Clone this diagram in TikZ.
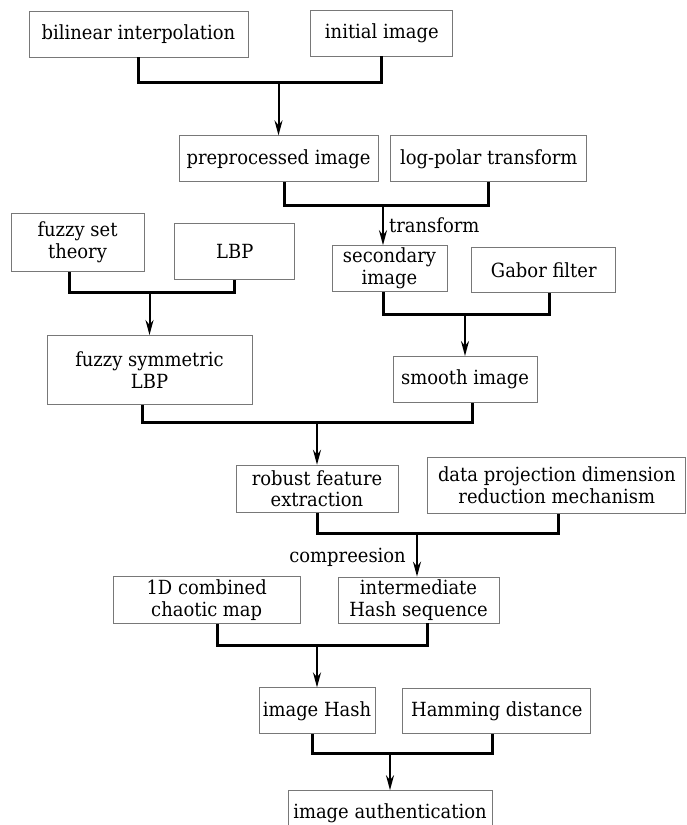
\documentclass[tikz,border=0pt]{standalone}
\usepackage{fontspec}
\setmainfont{DejaVu Serif}[FakeStretch=0.92]
\usepackage{tikz}
\usetikzlibrary{arrows.meta,positioning}
\definecolor{boxgray}{RGB}{120,120,120}
\tikzset{
	>={Stealth[length=15pt,width=8pt]},
	% Specifications for style of nodes:
	box/.style = {rectangle, draw=boxgray, line width=0.8pt,
	inner sep=1.5pt, align=center, text centered},
	lbl/.style = {inner sep=0pt},
	% Specifications for style of connections:
	merge/.style = {line width=3pt, line join=miter},
	flow/.style = {line width=2pt, ->},
}

\begin{document}
\begin{tikzpicture}[every node/.style={font=\fontsize{19.5}{21.7}\selectfont}]
	\useasboundingbox (0,0) rectangle (686pt,-825pt);
		% draw blocks
		\node (bil)[box, minimum width=219pt, minimum height=46pt] at (138.5pt,-34pt) {bilinear interpolation};
		\node (init)[box, right=62pt of bil, yshift=1pt, minimum width=142pt, minimum height=46pt]{initial image};
		\node (pre)[box, below=78pt of bil, xshift=140pt, minimum width=199pt, minimum height=46pt]{preprocessed image};
		\node (logp)[box, right=12pt of pre, minimum width=196pt, minimum height=46pt]{log-polar transform};
		% left branch
		\node (fst)[box, below=31pt of pre, xshift=-201pt, minimum width=133pt, minimum height=58pt]{fuzzy set\\theory};
		\node (lbp)[box, right=30pt of fst, yshift=-9pt, minimum width=120pt, minimum height=56pt]{LBP};
		\node (fslbp)[box, below=63pt of fst, xshift=72pt, minimum width=205pt, minimum height=69pt]{fuzzy symmetric\\LBP};
		% right branch
		\node (sec)[box, below=63pt of pre, xshift=111pt, minimum width=115pt, minimum height=46pt]{secondary\\image};
		\node (gab)[box, right=24pt of sec, yshift=-1.5pt, minimum width=144pt, minimum height=45pt]{Gabor filter};
		\node (smooth)[box, below=64pt of sec, xshift=75.5pt, minimum width=144pt, minimum height=46pt]{smooth image};
		% features and hash
		\node (rfe)[box, below=60pt of fslbp, xshift=167.5pt, minimum width=162pt, minimum height=47pt]{robust feature\\extraction};
		\node (dpd)[box, right=29pt of rfe, yshift=3.5pt, minimum width=258pt, minimum height=56pt]{data projection dimension\\reduction mechanism};
		\node (ihs)[box, below=64pt of rfe, xshift=101.5pt, minimum width=161pt, minimum height=46pt]{intermediate\\Hash sequence};
		\node (cmap)[box, left=37pt of ihs, minimum width=187pt, minimum height=47pt]{1D combined\\chaotic map};
		\node (ihash)[box, below=64pt of ihs, xshift=-101.5pt, minimum width=116pt, minimum height=46pt]{image Hash};
		\node (hamm)[box, right=27pt of ihash, minimum width=188pt, minimum height=45pt]{Hamming distance};
		\node (auth)[box, below=56pt of ihash, xshift=73pt, minimum width=204pt, minimum height=46pt]{image authentication};
		% connection coordinates where two lines join
		\node (j1)[shape=coordinate, above=53pt of pre] {};
		\node (j2)[shape=coordinate, above=40pt of sec, xshift=-6.5pt] {};
		\node (j3)[shape=coordinate, above=43pt of fslbp] {};
		\node (j4)[shape=coordinate, above=42pt of smooth] {};
		\node (j5)[shape=coordinate, above=42pt of rfe] {};
		\node (j6)[shape=coordinate, above=43pt of ihs, xshift=-1.5pt] {};
		\node (j7)[shape=coordinate, above=42pt of ihash] {};
		\node (j8)[shape=coordinate, above=37pt of auth] {};
		% labels on arrows
		\node (ltrans)[lbl, right=6pt of j2, yshift=-20pt]{transform};
		\node (lcomp)[lbl, left=11pt of j6, yshift=-24pt]{compreesion};
		% draw arrows between nodes
		\draw[merge](bil.south) |- (j1) -| (init.south);
		\draw[flow](j1) -- (pre.north);
		\draw[merge]([xshift=5.5pt]pre.south) |- (j2) -| (logp.south);
		\draw[flow](j2) -- ([xshift=-6.5pt]sec.north);
		\draw[merge]([xshift=-8.5pt]fst.south) |- (j3) -| (lbp.south);
		\draw[flow](j3) -- (fslbp.north);
		\draw[merge]([xshift=-6.5pt]sec.south) |- (j4) -| ([xshift=6pt]gab.south);
		\draw[flow](j4) -- (smooth.north);
		\draw[merge]([xshift=-7.5pt]fslbp.south) |- (j5) -| ([xshift=7pt]smooth.south);
		\draw[flow](j5) -- (rfe.north);
		\draw[merge](rfe.south) |- (j6) -| ([xshift=1.5pt]dpd.south);
		\draw[flow](j6) -- ([xshift=-1.5pt]ihs.north);
		\draw[merge]([xshift=10.5pt]cmap.south) |- (j7) -| ([xshift=8.5pt]ihs.south);
		\draw[flow](j7) -- (ihash.north);
		\draw[merge]([xshift=-5pt]ihash.south) |- (j8) -| ([xshift=-4pt]hamm.south);
		\draw[flow](j8) -- (auth.north);
	\end{tikzpicture}
\end{document}
